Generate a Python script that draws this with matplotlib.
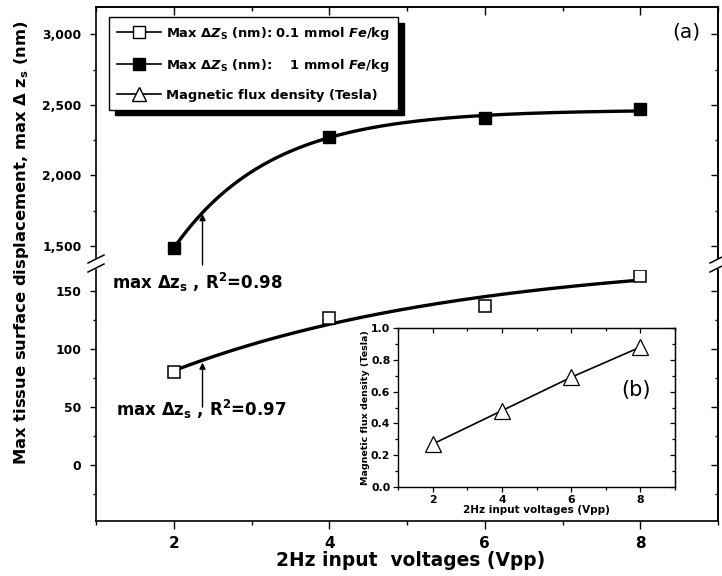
import numpy as np
import matplotlib
matplotlib.use("Agg")
import matplotlib.pyplot as plt
from matplotlib.ticker import MultipleLocator, FixedLocator, FuncFormatter
from matplotlib.lines import Line2D

# ---------------- data ----------------
voltages = [2, 4, 6, 8]
dz_low = [80, 127, 137, 163]          # Max dz_s (nm), 0.1 mmol Fe/kg
dz_high = [1484, 2274, 2406, 2470]    # Max dz_s (nm), 1 mmol Fe/kg
flux = [0.27, 0.48, 0.69, 0.88]       # magnetic flux density (Tesla)
r2_low = "0.97"
r2_high = "0.98"

plt.rcParams["font.family"] = ["DejaVu Sans"]
plt.rcParams["font.weight"] = "bold"
plt.rcParams["mathtext.fontset"] = "custom"
plt.rcParams["mathtext.rm"] = "DejaVu Sans:bold"
plt.rcParams["mathtext.bf"] = "DejaVu Sans:bold"
plt.rcParams["mathtext.it"] = "DejaVu Sans:bold:oblique"
plt.rcParams["mathtext.sf"] = "DejaVu Sans:bold"


def sat_fit(x, y):
    """least squares fit of y = a - b*exp(-c x)"""
    x = np.asarray(x, float)
    y = np.asarray(y, float)
    best = None
    for c in np.linspace(0.02, 3.0, 1500):
        A = np.column_stack([np.ones_like(x), -np.exp(-c * x)])
        coef, *_ = np.linalg.lstsq(A, y, rcond=None)
        res = np.sum((A @ coef - y) ** 2)
        if best is None or res < best[0]:
            best = (res, c, coef)
    _, c, (a, b) = best
    return lambda t: a - b * np.exp(-c * np.asarray(t, float))


f_low = sat_fit(voltages, dz_low)
f_high = sat_fit(voltages, dz_high)
xs = np.linspace(voltages[0], voltages[-1], 200)

W, H = 722, 576
fig = plt.figure(figsize=(W / 100, H / 100), dpi=100)


def fx(px):
    return px / W


def fy(py):
    return 1 - py / H


L, R = 96, 718
top_px, brk_top, brk_bot, bot_px = 7, 258, 270, 521
ax_top = fig.add_axes([fx(L), fy(brk_top), fx(R - L), (brk_top - top_px) / H])
ax_bot = fig.add_axes([fx(L), fy(bot_px), fx(R - L), (bot_px - brk_bot) / H])

for ax in (ax_top, ax_bot):
    ax.set_xlim(1, 9)
    for s in ax.spines.values():
        s.set_linewidth(1.2)

ax_top.set_ylim(1415, 3193)
ax_bot.set_ylim(-48, 168)
ax_top.spines["bottom"].set_visible(False)
ax_bot.spines["top"].set_visible(False)

# data: upper
ax_top.plot(xs, f_high(xs), color="k", lw=2.4, zorder=2)
ax_top.plot(voltages, dz_high, ls="none", marker="s", ms=9, mfc="k", mec="k", zorder=3)
# data: lower
ax_bot.plot(xs, f_low(xs), color="k", lw=2.4, zorder=2)
ax_bot.plot(voltages, dz_low, ls="none", marker="s", ms=9, mfc="white", mec="k", mew=1.1, zorder=3)

# ticks
ax_top.yaxis.set_major_locator(MultipleLocator(500))
ax_top.yaxis.set_minor_locator(MultipleLocator(250))
ax_top.yaxis.set_major_formatter(FuncFormatter(lambda v, p: f"{int(v):,}"))
ax_bot.yaxis.set_major_locator(FixedLocator([0, 50, 100, 150]))
ax_bot.yaxis.set_minor_locator(MultipleLocator(25))
for ax in (ax_top, ax_bot):
    ax.xaxis.set_major_locator(MultipleLocator(2))
    ax.xaxis.set_minor_locator(MultipleLocator(1))
    ax.tick_params(axis="y", which="both", direction="out", left=True, right=False,
                   labelsize=8.8, pad=6, width=1)
    ax.tick_params(axis="y", which="major", length=4.5)
    ax.tick_params(axis="y", which="minor", length=2.5)
    sec = ax.secondary_yaxis("right")
    sec.yaxis.set_major_locator(ax.yaxis.get_major_locator())
    sec.yaxis.set_minor_locator(ax.yaxis.get_minor_locator())
    sec.tick_params(axis="y", which="both", direction="in", labelright=False, width=1)
    sec.tick_params(axis="y", which="major", length=5)
    sec.tick_params(axis="y", which="minor", length=2.5)
    sec.spines["right"].set_linewidth(1.2)
    for lbl in ax.get_yticklabels():
        lbl.set_fontweight("bold")

ax_top.tick_params(axis="x", which="both", bottom=False, labelbottom=False, top=False)
secx = ax_top.secondary_xaxis("top")
secx.xaxis.set_major_locator(MultipleLocator(2))
secx.xaxis.set_minor_locator(MultipleLocator(1))
secx.tick_params(axis="x", which="both", direction="in", labeltop=False, width=1)
secx.tick_params(axis="x", which="major", length=6)
secx.tick_params(axis="x", which="minor", length=3)
secx.spines["top"].set_linewidth(1.2)
ax_bot.tick_params(axis="x", which="both", direction="out", top=False, labelsize=11, pad=5, width=1)
ax_bot.tick_params(axis="x", which="major", length=6)
ax_bot.tick_params(axis="x", which="minor", length=3)

# break marks
for xp in (L, R):
    for yp in (259, 268):
        fig.add_artist(Line2D([fx(xp - 8), fx(xp + 8)], [fy(yp + 4), fy(yp - 4)],
                              color="k", lw=1.1))

# labels
fig.text(fx(22), fy(243), r"Max tissue surface displacement, max $\Delta$ z$_\mathregular{s}$ (nm)",
         rotation=90, ha="center", va="center", fontsize=11.8, fontweight="bold")
fig.text(fx(411), fy(561), "2Hz input  voltages (Vpp)", ha="center", va="center",
         fontsize=13.4, fontweight="bold")
fig.text(fx(686), fy(32), "(a)", ha="center", va="center", fontsize=14.5, fontweight="normal")

# annotations
xa = 2.37
ax_top.annotate("", xy=(xa, float(f_high(xa)) - 10), xytext=(xa, 1365),
                arrowprops=dict(arrowstyle="-|>", color="k", lw=1, mutation_scale=9,
                                shrinkA=0, shrinkB=0), annotation_clip=False)
ax_bot.annotate("", xy=(xa, float(f_low(xa)) - 2), xytext=(xa, 50),
                arrowprops=dict(arrowstyle="-|>", color="k", lw=1, mutation_scale=9,
                                shrinkA=0, shrinkB=0), annotation_clip=False)
fig.text(fx(112), fy(289), r"max $\Delta$z$_\mathregular{s}$ , R$^\mathregular{2}$=" + r2_high,
         ha="left", va="baseline", fontsize=12)
fig.text(fx(116), fy(416), r"max $\Delta$z$_\mathregular{s}$ , R$^\mathregular{2}$=" + r2_low,
         ha="left", va="baseline", fontsize=12)

# legend
h1 = Line2D([], [], color="k", lw=1.2, marker="s", ms=8, mfc="white", mec="k")
h2 = Line2D([], [], color="k", lw=1.2, marker="s", ms=8, mfc="k", mec="k")
h3 = Line2D([], [], color="k", lw=1.2, marker="^", ms=10, mfc="white", mec="k")
leg = fig.legend([h1, h2, h3],
                 [r"Max $\Delta Z_\mathregular{S}$ (nm): 0.1 mmol $Fe$/kg",
                  r"Max $\Delta Z_\mathregular{S}$ (nm):    1 mmol $Fe$/kg",
                  "Magnetic flux density (Tesla)"],
                 loc="upper left", bbox_to_anchor=(fx(109), fy(17)),
                 prop=dict(size=9.4, weight="bold"), frameon=True, fancybox=False,
                 shadow={"ox": 4, "oy": -4, "color": "k", "alpha": 1},
                 edgecolor="k", framealpha=1, handlelength=3.4, handletextpad=0.4,
                 labelspacing=1.15, borderpad=0.6, borderaxespad=0)
leg.get_frame().set_linewidth(1)

# inset (b)
ax_in = fig.add_axes([fx(398), fy(487), fx(675 - 398), (487 - 328) / H])
ax_in.plot(voltages, flux, color="k", lw=1.2, marker="^", ms=11, mfc="white", mec="k", mew=0.9)
ax_in.set_xlim(1, 9)
ax_in.set_ylim(0, 1)
ax_in.xaxis.set_major_locator(MultipleLocator(2))
ax_in.xaxis.set_minor_locator(MultipleLocator(1))
ax_in.yaxis.set_major_locator(MultipleLocator(0.2))
ax_in.yaxis.set_minor_locator(MultipleLocator(0.1))
ax_in.yaxis.set_major_formatter(FuncFormatter(lambda v, p: f"{v:.1f}"))
ax_in.tick_params(which="both", direction="out", labelsize=7.8, pad=2, width=0.9)
ax_in.tick_params(which="major", length=3.5)
ax_in.tick_params(which="minor", length=2)
for s in ax_in.spines.values():
    s.set_linewidth(1)
sx = ax_in.secondary_xaxis("top")
sx.xaxis.set_major_locator(MultipleLocator(2))
sx.xaxis.set_minor_locator(MultipleLocator(1))
sx.tick_params(which="both", direction="in", labeltop=False, width=0.9)
sx.tick_params(which="major", length=3.5)
sx.tick_params(which="minor", length=2)
sy = ax_in.secondary_yaxis("right")
sy.yaxis.set_major_locator(MultipleLocator(0.2))
sy.yaxis.set_minor_locator(MultipleLocator(0.1))
sy.tick_params(which="both", direction="in", labelright=False, width=0.9)
sy.tick_params(which="major", length=3.5)
sy.tick_params(which="minor", length=2)
ax_in.set_xlabel("2Hz input voltages (Vpp)", fontsize=7.5, fontweight="bold", labelpad=0)
ax_in.set_ylabel("Magnetic flux density (Tesla)", fontsize=6.8, fontweight="bold", labelpad=1)
ax_in.text(0.86, 0.61, "(b)", transform=ax_in.transAxes, ha="center", va="center",
           fontsize=15, fontweight="normal")

fig.savefig("out.png", dpi=100)
